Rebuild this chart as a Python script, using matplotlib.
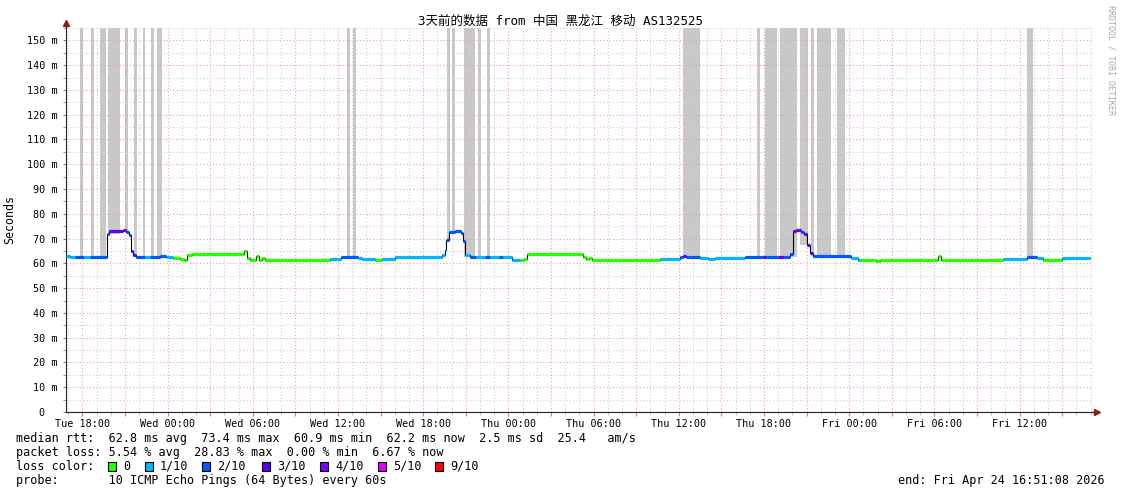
import numpy as np
import matplotlib
matplotlib.use("Agg")
import matplotlib.pyplot as plt
from matplotlib.ticker import FixedLocator, MultipleLocator

W, H = 1121, 494
MONO = "DejaVu Sans Mono"

title = "3天前的数据 from 中国 黑龙江 移动 AS132525"

# median rtt as steps: start hour (hours since Tue 00:00), value in ms, loss in tenths
seg_hour = [
    16.85, 17.13, 17.48, 18.12, 18.54, 19.74, 19.88, 20.86, 21.08, 21.29,
    21.43, 21.57, 21.78, 22.41, 22.77, 23.47, 23.89, 24.39, 24.88, 25.16,
    25.37, 25.72, 29.10, 29.38, 29.60, 29.81, 30.23, 30.44, 30.65, 30.86,
    35.44, 36.22, 37.41, 37.70, 38.61, 39.10, 40.02, 41.08, 42.91, 43.33,
    43.54, 43.61, 43.82, 44.24, 44.67, 44.81, 44.95, 45.30, 45.72, 46.36,
    46.71, 47.34, 47.62, 48.26, 48.82, 49.10, 49.31, 53.26, 53.47, 53.68,
    53.89, 58.68, 60.08, 60.30, 60.51, 61.50, 62.06, 62.55, 64.31, 64.67,
    65.94, 66.15, 66.99, 67.41, 67.84, 68.05, 68.26, 68.61, 68.82, 69.03,
    69.24, 69.46, 72.13, 72.62, 72.77, 73.89, 74.17, 78.25, 78.47, 82.84,
    84.53, 85.23, 85.65, 86.99, 87.91,
]
data_end = 88.96
seg_rtt = [
    63.0, 62.4, 62.5, 62.5, 62.5, 72.0, 73.0, 73.6, 72.5, 71.5,
    65.0, 63.2, 62.6, 62.4, 62.6, 62.8, 62.6, 62.3, 61.8, 61.3,
    63.5, 63.7, 63.9, 64.8, 62.1, 61.3, 62.8, 61.3, 62.0, 61.3,
    61.6, 62.6, 62.3, 61.6, 61.5, 61.8, 62.4, 62.6, 62.7, 63.3,
    65.5, 69.5, 72.7, 73.0, 72.3, 69.0, 63.3, 62.7, 62.4, 62.6,
    62.4, 62.5, 62.4, 61.5, 61.3, 61.8, 63.7, 62.6, 61.6, 62.0,
    61.3, 61.6, 62.6, 62.8, 62.7, 62.0, 61.6, 62.0, 62.3, 62.6,
    62.7, 62.6, 62.6, 62.6, 63.8, 73.1, 73.3, 72.6, 71.8, 67.3,
    64.0, 62.9, 62.3, 61.5, 61.3, 61.0, 61.3, 63.0, 61.3, 61.8,
    62.6, 62.2, 61.5, 62.0, 62.3,
]
seg_loss = [
    1, 1, 2, 1, 2, 2, 3, 4, 2, 2,
    3, 3, 2, 1, 2, 2, 1, 0, 0, 0,
    0, 0, 0, 0, 0, 0, 0, 0, 0, 0,
    1, 2, 1, 1, 0, 1, 1, 1, 1, 1,
    1, 2, 2, 2, 2, 2, 1, 2, 1, 2,
    1, 2, 1, 1, 0, 0, 0, 0, 0, 0,
    0, 1, 2, 3, 2, 1, 1, 1, 1, 2,
    3, 2, 3, 2, 2, 3, 4, 2, 3, 3,
    3, 2, 1, 1, 0, 0, 0, 0, 0, 1,
    2, 1, 0, 1, 1,
]

# smoke bars reaching the top of the graph
bar_start = [17.84, 18.61, 19.24, 19.81, 21.00, 21.64, 22.27, 22.84, 23.26,
             36.64, 37.06, 43.68, 44.03, 44.88, 45.86, 46.50, 60.30, 65.51,
             66.08, 67.13, 68.54, 69.31, 69.73, 71.15, 84.53]
bar_end = [18.05, 18.82, 19.67, 20.65, 21.22, 21.85, 22.41, 23.05, 23.61,
           36.85, 37.27, 43.89, 44.24, 45.65, 46.07, 46.71, 61.50, 65.72,
           66.92, 68.33, 69.10, 69.53, 70.72, 71.71, 84.95]

loss_levels = [0, 1, 2, 3, 4, 5, 9]
loss_labels = ["0", "1/10", "2/10", "3/10", "4/10", "5/10", "9/10"]
loss_colors = ["#26ff00", "#00b8ff", "#0059ff", "#5e00ff", "#7e00ff", "#dd00ff", "#ff0000"]

x_label_hours = [18, 24, 30, 36, 42, 48, 54, 60, 66, 72, 78, 84]
x_labels = ["Tue 18:00", "Wed 00:00", "Wed 06:00", "Wed 12:00", "Wed 18:00", "Thu 00:00",
            "Thu 06:00", "Thu 12:00", "Thu 18:00", "Fri 00:00", "Fri 06:00", "Fri 12:00"]
y_ticks = [0, 10, 20, 30, 40, 50, 60, 70, 80, 90, 100, 110, 120, 130, 140, 150]

rtt_line = "median rtt:  62.8 ms avg  73.4 ms max  60.9 ms min  62.2 ms now  2.5 ms sd  25.4   am/s"
loss_line = "packet loss: 5.54 % avg  28.83 % max  0.00 % min  6.67 % now"
probe_line = "probe:       10 ICMP Echo Pings (64 Bytes) every 60s"
end_line = "end: Fri Apr 24 16:51:08 2026"

x_min, x_max = 16.85, 16.85 + 1027 / 14.2
y_max = 155


def fx(px):
    return px / W


def fy(py):
    return 1 - py / H


fig = plt.figure(figsize=(W / 100, H / 100), dpi=100)
ax = fig.add_axes([fx(66), fy(412), (1093 - 66) / W, (412 - 28) / H])
ax.set_xlim(x_min, x_max)
ax.set_ylim(0, y_max)

# smoke bars: from the lowest median under the bar up to the top
bottoms = []
for s, e in zip(bar_start, bar_end):
    i0 = np.searchsorted(seg_hour, s, side="right") - 1
    i1 = np.searchsorted(seg_hour, e, side="left")
    bottoms.append(min(seg_rtt[i0:max(i1, i0 + 1)]))
bottoms = np.array(bottoms)
ax.bar(bar_start, y_max - bottoms, width=np.array(bar_end) - np.array(bar_start),
       bottom=bottoms, align="edge", color="#c8c8c8", linewidth=0, zorder=1)

# median line
seg_end = seg_hour[1:] + [data_end]
ax.step(seg_hour + [data_end], seg_rtt + [seg_rtt[-1]], where="post",
        color="black", linewidth=0.8, zorder=2)
color_of = dict(zip(loss_levels, loss_colors))
ax.hlines(seg_rtt, seg_hour, seg_end, colors=[color_of[l] for l in seg_loss],
          linewidth=2.3, capstyle="butt", zorder=3)

# grid
ax.set_xticks(np.arange(18, x_max, 3))
ax.set_xticklabels([x_labels[x_label_hours.index(h)] if h in x_label_hours else ""
                    for h in np.arange(18, x_max, 3)])
ax.xaxis.set_minor_locator(MultipleLocator(1))
ax.set_yticks(y_ticks)
ax.set_yticklabels([f"{v} m" if v else "0  " for v in y_ticks])
ax.yaxis.set_minor_locator(MultipleLocator(5))
ax.set_axisbelow("line")
ax.grid(which="major", color="#f0a0a0", linestyle=(0, (1, 2)), linewidth=0.8)
ax.grid(which="minor", color="#cfcfcf", linestyle=(0, (1, 2)), linewidth=0.8)

for lab in ax.get_xticklabels() + ax.get_yticklabels():
    lab.set_fontfamily(MONO)
    lab.set_fontsize(7.3)
ax.tick_params(axis="x", which="major", length=3, color="#e08080", pad=2)
ax.tick_params(axis="x", which="minor", length=2, color="#bbbbbb")
ax.tick_params(axis="y", which="both", length=2, color="#888888", pad=4)

for side in ["top", "right"]:
    ax.spines[side].set_visible(False)
for side in ["left", "bottom"]:
    ax.spines[side].set_color("#222222")
    ax.spines[side].set_linewidth(0.8)

# axis arrows
ax.plot([0, 0], [1, 1.012], transform=ax.transAxes, color="#222222", lw=0.8, clip_on=False)
ax.plot([0], [1.014], marker="^", ms=4, color="#8b1a1a", transform=ax.transAxes, clip_on=False)
ax.plot([1, 1.003], [0, 0], transform=ax.transAxes, color="#222222", lw=0.8, clip_on=False)
ax.plot([1.004], [0], marker=">", ms=4, color="#8b1a1a", transform=ax.transAxes, clip_on=False)

# texts
fig.text(fx(560.5), fy(21), title, ha="center", va="center", fontsize=9,
         family=[MONO, "Noto Sans CJK SC"])
fig.text(fx(10), fy(220), "Seconds", rotation=90, ha="center", va="center",
         fontsize=8.4, family=MONO)
fig.text(fx(1111), fy(60), "RRDTOOL / TOBI OETIKER", rotation=270, ha="center",
         va="center", fontsize=6, family=MONO, color="#aaaaaa")

fs = 8.45
fig.text(fx(16), fy(438), rtt_line, ha="left", va="center", fontsize=fs, family=MONO)
fig.text(fx(16), fy(452), loss_line, ha="left", va="center", fontsize=fs, family=MONO)
fig.text(fx(16), fy(466), "loss color:", ha="left", va="center", fontsize=fs, family=MONO)
fig.text(fx(16), fy(480), probe_line, ha="left", va="center", fontsize=fs, family=MONO)
fig.text(fx(1105), fy(480), end_line, ha="right", va="center", fontsize=fs, family=MONO)

box_px = [108, 145, 202, 262, 320, 378, 435]
for bx, lab, col in zip(box_px, loss_labels, loss_colors):
    fig.patches.append(plt.Rectangle((fx(bx), fy(470.5)), 8 / W, 9 / H, transform=fig.transFigure,
                                     facecolor=col, edgecolor="black", linewidth=0.8))
    fig.text(fx(bx + 15), fy(466), lab, ha="left", va="center", fontsize=fs, family=MONO)

fig.savefig("out.png", dpi=100, facecolor="white")
